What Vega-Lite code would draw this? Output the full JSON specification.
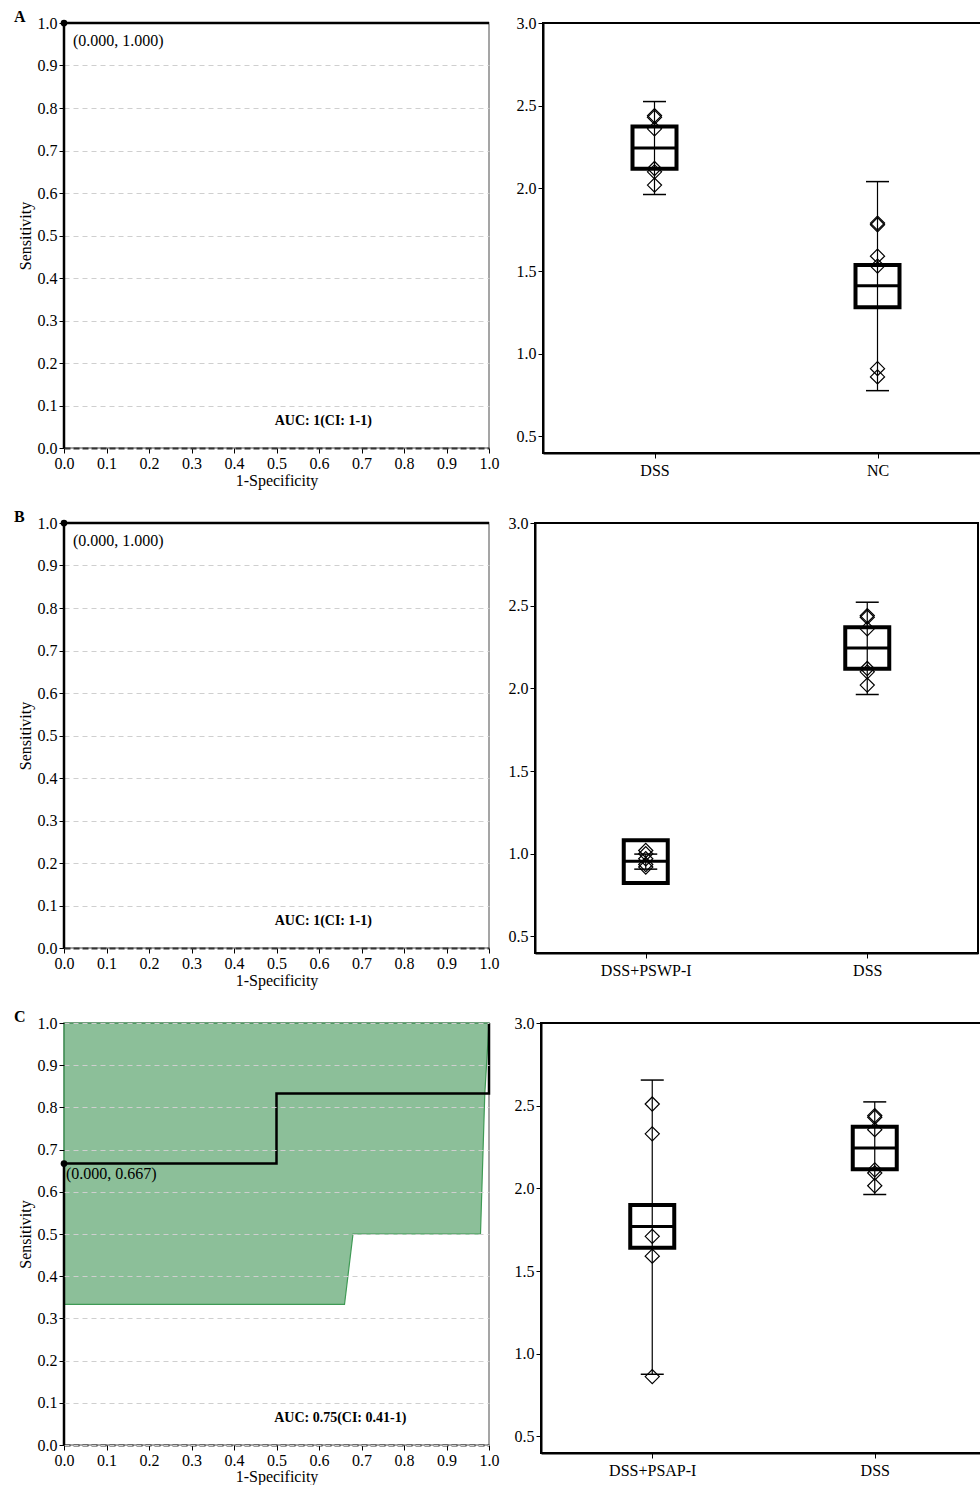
{
  "$schema": "https://vega.github.io/schema/vega-lite/v6.json",
  "background": "white",
  "padding": {"left": 13, "top": 8, "right": 0, "bottom": 0},
  "config": {
    "font": "Liberation Serif",
    "axis": {"labelFont": "Liberation Serif", "labelFontSize": 16, "titleFont": "Liberation Serif", "titleFontSize": 16, "titleFontWeight": "normal", "labelColor": "black", "titleColor": "black", "tickColor": "black", "domainColor": "black", "grid": false, "labelPadding": 2, "tickSize": 5, "labelFlush": false},
    "title": {"font": "Liberation Serif", "fontSize": 16, "fontWeight": "bold", "color": "black"},
    "text": {"font": "Liberation Serif", "color": "black"}
  },
  "datasets": {
    "rocA": [{"fpr": 0, "tpr": 0, "step": 1}, {"fpr": 0, "tpr": 1, "step": 2}, {"fpr": 1, "tpr": 1, "step": 3}],
    "rocB": [{"fpr": 0, "tpr": 0, "step": 1}, {"fpr": 0, "tpr": 1, "step": 2}, {"fpr": 1, "tpr": 1, "step": 3}],
    "rocC": [{"fpr": 0, "tpr": 0, "step": 1}, {"fpr": 0, "tpr": 0.667, "step": 2}, {"fpr": 0.5, "tpr": 0.667, "step": 3}, {"fpr": 0.5, "tpr": 0.833, "step": 4}, {"fpr": 1, "tpr": 0.833, "step": 5}, {"fpr": 1, "tpr": 1, "step": 6}],
    "ciC": [{"fpr": 0, "lo": 0.333, "hi": 1}, {"fpr": 0.66, "lo": 0.333, "hi": 1}, {"fpr": 0.68, "lo": 0.5, "hi": 1}, {"fpr": 0.98, "lo": 0.5, "hi": 1}, {"fpr": 0.99, "lo": 0.83, "hi": 1}, {"fpr": 1, "lo": 1, "hi": 1}],
    "labA": [{"fpr": 0, "tpr": 1, "label": "(0.000, 1.000)"}],
    "labB": [{"fpr": 0, "tpr": 1, "label": "(0.000, 1.000)"}],
    "labC": [{"fpr": 0, "tpr": 0.667, "label": "(0.000, 0.667)"}],
    "aucA": [{"fpr": 0.61, "tpr": 0.063, "label": "AUC: 1(CI: 1-1)"}],
    "aucB": [{"fpr": 0.61, "tpr": 0.063, "label": "AUC: 1(CI: 1-1)"}],
    "aucC": [{"fpr": 0.65, "tpr": 0.064, "label": "AUC: 0.75(CI: 0.41-1)"}],
    "boxA": [{"group": "DSS", "lo": 1.963, "q1": 2.118, "med": 2.244, "q3": 2.374, "hi": 2.525}, {"group": "NC", "lo": 0.777, "q1": 1.281, "med": 1.411, "q3": 1.537, "hi": 2.041}],
    "ptsA": [{"group": "DSS", "value": 2.44}, {"group": "DSS", "value": 2.43}, {"group": "DSS", "value": 2.36}, {"group": "DSS", "value": 2.12}, {"group": "DSS", "value": 2.1}, {"group": "DSS", "value": 2.02}, {"group": "NC", "value": 1.79}, {"group": "NC", "value": 1.78}, {"group": "NC", "value": 1.59}, {"group": "NC", "value": 1.53}, {"group": "NC", "value": 0.91}, {"group": "NC", "value": 0.86}],
    "boxB": [{"group": "DSS+PSWP-I", "lo": 0.907, "q1": 0.824, "med": 0.955, "q3": 1.081, "hi": 0.998}, {"group": "DSS", "lo": 1.963, "q1": 2.118, "med": 2.244, "q3": 2.37, "hi": 2.521}],
    "ptsB": [{"group": "DSS+PSWP-I", "value": 1.02}, {"group": "DSS+PSWP-I", "value": 1.0}, {"group": "DSS+PSWP-I", "value": 0.97}, {"group": "DSS+PSWP-I", "value": 0.935}, {"group": "DSS+PSWP-I", "value": 0.92}, {"group": "DSS", "value": 2.44}, {"group": "DSS", "value": 2.43}, {"group": "DSS", "value": 2.36}, {"group": "DSS", "value": 2.12}, {"group": "DSS", "value": 2.1}, {"group": "DSS", "value": 2.02}],
    "boxC": [{"group": "DSS+PSAP-I", "lo": 0.876, "q1": 1.641, "med": 1.769, "q3": 1.899, "hi": 2.655}, {"group": "DSS", "lo": 1.963, "q1": 2.116, "med": 2.244, "q3": 2.372, "hi": 2.523}],
    "ptsC": [{"group": "DSS+PSAP-I", "value": 2.51}, {"group": "DSS+PSAP-I", "value": 2.33}, {"group": "DSS+PSAP-I", "value": 1.71}, {"group": "DSS+PSAP-I", "value": 1.59}, {"group": "DSS+PSAP-I", "value": 0.862}, {"group": "DSS", "value": 2.44}, {"group": "DSS", "value": 2.43}, {"group": "DSS", "value": 2.355}, {"group": "DSS", "value": 2.112}, {"group": "DSS", "value": 2.093}, {"group": "DSS", "value": 2.016}]
  },
  "spacing": 19,
  "vconcat": [
    {
      "spacing": 15,
      "hconcat": [
        {
          "width": 425, "height": 425,
          "title": {"text": "A", "anchor": "start", "frame": "group", "dx": -50, "offset": -10},
          "view": {"stroke": "#888", "strokeWidth": 1.5},
          "layer": [
            {"data": {"name": "rocA"}, "mark": {"type": "line", "color": "black", "strokeWidth": 2.5, "clip": false},
             "encoding": {
               "x": {"field": "fpr", "type": "quantitative", "scale": {"domain": [0, 1]}, "title": "1-Specificity", "axis": {"values": [0, 0.1, 0.2, 0.3, 0.4, 0.5, 0.6, 0.7, 0.8, 0.9, 1], "format": ".1f", "domainDash": [6, 3], "domainColor": "#333", "domainWidth": 2, "titlePadding": 1}},
               "y": {"field": "tpr", "type": "quantitative", "scale": {"domain": [0, 1]}, "title": "Sensitivity", "axis": {"values": [0, 0.1, 0.2, 0.3, 0.4, 0.5, 0.6, 0.7, 0.8, 0.9, 1], "format": ".1f", "domain": false, "grid": true, "gridDash": [5, 4], "gridColor": "#cfcfcf", "titlePadding": 4}},
               "order": {"field": "step", "type": "quantitative"}}},
            {"data": {"name": "labA"}, "mark": {"type": "point", "filled": true, "color": "black", "size": 45, "opacity": 1, "clip": false},
             "encoding": {"x": {"field": "fpr", "type": "quantitative"}, "y": {"field": "tpr", "type": "quantitative"}}},
            {"data": {"name": "labA"}, "mark": {"type": "text", "align": "left", "dx": 9, "dy": 18, "fontSize": 16},
             "encoding": {"x": {"field": "fpr", "type": "quantitative"}, "y": {"field": "tpr", "type": "quantitative"}, "text": {"field": "label"}}},
            {"data": {"name": "aucA"}, "mark": {"type": "text", "fontWeight": "bold", "fontSize": 14},
             "encoding": {"x": {"field": "fpr", "type": "quantitative"}, "y": {"field": "tpr", "type": "quantitative"}, "text": {"field": "label"}}}
          ]
        },
        {
          "width": 446, "height": 430,
          "view": {"stroke": "black", "strokeWidth": 2},
          "data": {"name": "boxA"},
          "encoding": {"x": {"field": "group", "type": "nominal", "scale": {"type": "point", "padding": 0.5, "domain": ["DSS", "NC"]}, "axis": {"labelAngle": 0, "title": null, "domainWidth": 2, "labelPadding": 4}}},
          "layer": [
            {"mark": {"type": "rule", "strokeWidth": 1.2, "color": "black"},
             "encoding": {"y": {"field": "lo", "type": "quantitative", "scale": {"domain": [0.5, 3]}, "axis": {"values": [0.5, 1, 1.5, 2, 2.5, 3], "format": ".1f", "title": null, "domainWidth": 2}}, "y2": {"field": "hi"}}},
            {"mark": {"type": "tick", "size": 23, "thickness": 1.5, "color": "black", "opacity": 1}, "encoding": {"y": {"field": "lo", "type": "quantitative"}}},
            {"mark": {"type": "tick", "size": 23, "thickness": 1.5, "color": "black", "opacity": 1}, "encoding": {"y": {"field": "hi", "type": "quantitative"}}},
            {"mark": {"type": "bar", "width": 44, "fill": "white", "fillOpacity": 0, "stroke": "black", "strokeWidth": 4}, "encoding": {"y": {"field": "q1", "type": "quantitative"}, "y2": {"field": "q3"}}},
            {"mark": {"type": "tick", "size": 44, "thickness": 3, "color": "black", "opacity": 1}, "encoding": {"y": {"field": "med", "type": "quantitative"}}},
            {"data": {"name": "ptsA"}, "mark": {"type": "point", "shape": "diamond", "filled": false, "color": "black", "size": 200, "strokeWidth": 1.2, "opacity": 1}, "encoding": {"y": {"field": "value", "type": "quantitative"}}}
          ]
        }
      ]
    },
    {
      "spacing": 7,
      "hconcat": [
        {
          "width": 425, "height": 425,
          "title": {"text": "B", "anchor": "start", "frame": "group", "dx": -50, "offset": -10},
          "view": {"stroke": "#888", "strokeWidth": 1.5},
          "layer": [
            {"data": {"name": "rocB"}, "mark": {"type": "line", "color": "black", "strokeWidth": 2.5, "clip": false},
             "encoding": {
               "x": {"field": "fpr", "type": "quantitative", "scale": {"domain": [0, 1]}, "title": "1-Specificity", "axis": {"values": [0, 0.1, 0.2, 0.3, 0.4, 0.5, 0.6, 0.7, 0.8, 0.9, 1], "format": ".1f", "domainDash": [6, 3], "domainColor": "#333", "domainWidth": 2, "titlePadding": 1}},
               "y": {"field": "tpr", "type": "quantitative", "scale": {"domain": [0, 1]}, "title": "Sensitivity", "axis": {"values": [0, 0.1, 0.2, 0.3, 0.4, 0.5, 0.6, 0.7, 0.8, 0.9, 1], "format": ".1f", "domain": false, "grid": true, "gridDash": [5, 4], "gridColor": "#cfcfcf", "titlePadding": 4}},
               "order": {"field": "step", "type": "quantitative"}}},
            {"data": {"name": "labB"}, "mark": {"type": "point", "filled": true, "color": "black", "size": 45, "opacity": 1, "clip": false},
             "encoding": {"x": {"field": "fpr", "type": "quantitative"}, "y": {"field": "tpr", "type": "quantitative"}}},
            {"data": {"name": "labB"}, "mark": {"type": "text", "align": "left", "dx": 9, "dy": 18, "fontSize": 16},
             "encoding": {"x": {"field": "fpr", "type": "quantitative"}, "y": {"field": "tpr", "type": "quantitative"}, "text": {"field": "label"}}},
            {"data": {"name": "aucB"}, "mark": {"type": "text", "fontWeight": "bold", "fontSize": 14},
             "encoding": {"x": {"field": "fpr", "type": "quantitative"}, "y": {"field": "tpr", "type": "quantitative"}, "text": {"field": "label"}}}
          ]
        },
        {
          "width": 443, "height": 430,
          "view": {"stroke": "black", "strokeWidth": 2},
          "data": {"name": "boxB"},
          "encoding": {"x": {"field": "group", "type": "nominal", "scale": {"type": "point", "padding": 0.5, "domain": ["DSS+PSWP-I", "DSS"]}, "axis": {"labelAngle": 0, "title": null, "domainWidth": 2, "labelPadding": 4}}},
          "layer": [
            {"mark": {"type": "rule", "strokeWidth": 1.2, "color": "black"},
             "encoding": {"y": {"field": "lo", "type": "quantitative", "scale": {"domain": [0.5, 3]}, "axis": {"values": [0.5, 1, 1.5, 2, 2.5, 3], "format": ".1f", "title": null, "domainWidth": 2}}, "y2": {"field": "hi"}}},
            {"mark": {"type": "tick", "size": 23, "thickness": 1.5, "color": "black", "opacity": 1}, "encoding": {"y": {"field": "lo", "type": "quantitative"}}},
            {"mark": {"type": "tick", "size": 23, "thickness": 1.5, "color": "black", "opacity": 1}, "encoding": {"y": {"field": "hi", "type": "quantitative"}}},
            {"mark": {"type": "bar", "width": 44, "fill": "white", "fillOpacity": 0, "stroke": "black", "strokeWidth": 4}, "encoding": {"y": {"field": "q1", "type": "quantitative"}, "y2": {"field": "q3"}}},
            {"mark": {"type": "tick", "size": 44, "thickness": 3, "color": "black", "opacity": 1}, "encoding": {"y": {"field": "med", "type": "quantitative"}}},
            {"data": {"name": "ptsB"}, "mark": {"type": "point", "shape": "diamond", "filled": false, "color": "black", "size": 200, "strokeWidth": 1.2, "opacity": 1}, "encoding": {"y": {"field": "value", "type": "quantitative"}}}
          ]
        }
      ]
    },
    {
      "spacing": 13,
      "hconcat": [
        {
          "width": 425, "height": 422,
          "title": {"text": "C", "anchor": "start", "frame": "group", "dx": -50, "offset": -10},
          "view": {"stroke": "#888", "strokeWidth": 1.5},
          "layer": [
            {"data": {"name": "ciC"}, "mark": {"type": "area", "fill": "#2e8b46", "fillOpacity": 0.55, "stroke": "#3f9a55", "strokeWidth": 1.2, "clip": false},
             "encoding": {
               "x": {"field": "fpr", "type": "quantitative", "scale": {"domain": [0, 1]}, "title": "1-Specificity", "axis": {"values": [0, 0.1, 0.2, 0.3, 0.4, 0.5, 0.6, 0.7, 0.8, 0.9, 1], "format": ".1f", "domainDash": [6, 3], "domainColor": "#333", "domainWidth": 2, "titlePadding": 0}},
               "y": {"field": "lo", "type": "quantitative", "scale": {"domain": [0, 1]}, "title": "Sensitivity", "axis": {"values": [0, 0.1, 0.2, 0.3, 0.4, 0.5, 0.6, 0.7, 0.8, 0.9, 1], "format": ".1f", "domain": false, "grid": true, "gridDash": [5, 4], "gridColor": "#cfcfcf", "titlePadding": 4, "zindex": 1}},
               "y2": {"field": "hi"}}},
            {"data": {"name": "rocC"}, "mark": {"type": "line", "color": "black", "strokeWidth": 2.5, "clip": false},
             "encoding": {"x": {"field": "fpr", "type": "quantitative"}, "y": {"field": "tpr", "type": "quantitative"}, "order": {"field": "step", "type": "quantitative"}}},
            {"data": {"name": "labC"}, "mark": {"type": "point", "filled": true, "color": "black", "size": 45, "opacity": 1, "clip": false},
             "encoding": {"x": {"field": "fpr", "type": "quantitative"}, "y": {"field": "tpr", "type": "quantitative"}}},
            {"data": {"name": "labC"}, "mark": {"type": "text", "align": "left", "dx": 2, "dy": 10, "fontSize": 16},
             "encoding": {"x": {"field": "fpr", "type": "quantitative"}, "y": {"field": "tpr", "type": "quantitative"}, "text": {"field": "label"}}},
            {"data": {"name": "aucC"}, "mark": {"type": "text", "fontWeight": "bold", "fontSize": 14},
             "encoding": {"x": {"field": "fpr", "type": "quantitative"}, "y": {"field": "tpr", "type": "quantitative"}, "text": {"field": "label"}}}
          ]
        },
        {
          "width": 445, "height": 430,
          "view": {"stroke": "black", "strokeWidth": 2},
          "data": {"name": "boxC"},
          "encoding": {"x": {"field": "group", "type": "nominal", "scale": {"type": "point", "padding": 0.5, "domain": ["DSS+PSAP-I", "DSS"]}, "axis": {"labelAngle": 0, "title": null, "domainWidth": 2, "labelPadding": 4}}},
          "layer": [
            {"mark": {"type": "rule", "strokeWidth": 1.2, "color": "black"},
             "encoding": {"y": {"field": "lo", "type": "quantitative", "scale": {"domain": [0.5, 3]}, "axis": {"values": [0.5, 1, 1.5, 2, 2.5, 3], "format": ".1f", "title": null, "domainWidth": 2}}, "y2": {"field": "hi"}}},
            {"mark": {"type": "tick", "size": 23, "thickness": 1.5, "color": "black", "opacity": 1}, "encoding": {"y": {"field": "lo", "type": "quantitative"}}},
            {"mark": {"type": "tick", "size": 23, "thickness": 1.5, "color": "black", "opacity": 1}, "encoding": {"y": {"field": "hi", "type": "quantitative"}}},
            {"mark": {"type": "bar", "width": 44, "fill": "white", "fillOpacity": 0, "stroke": "black", "strokeWidth": 4}, "encoding": {"y": {"field": "q1", "type": "quantitative"}, "y2": {"field": "q3"}}},
            {"mark": {"type": "tick", "size": 44, "thickness": 3, "color": "black", "opacity": 1}, "encoding": {"y": {"field": "med", "type": "quantitative"}}},
            {"data": {"name": "ptsC"}, "mark": {"type": "point", "shape": "diamond", "filled": false, "color": "black", "size": 200, "strokeWidth": 1.2, "opacity": 1}, "encoding": {"y": {"field": "value", "type": "quantitative"}}}
          ]
        }
      ]
    }
  ]
}
